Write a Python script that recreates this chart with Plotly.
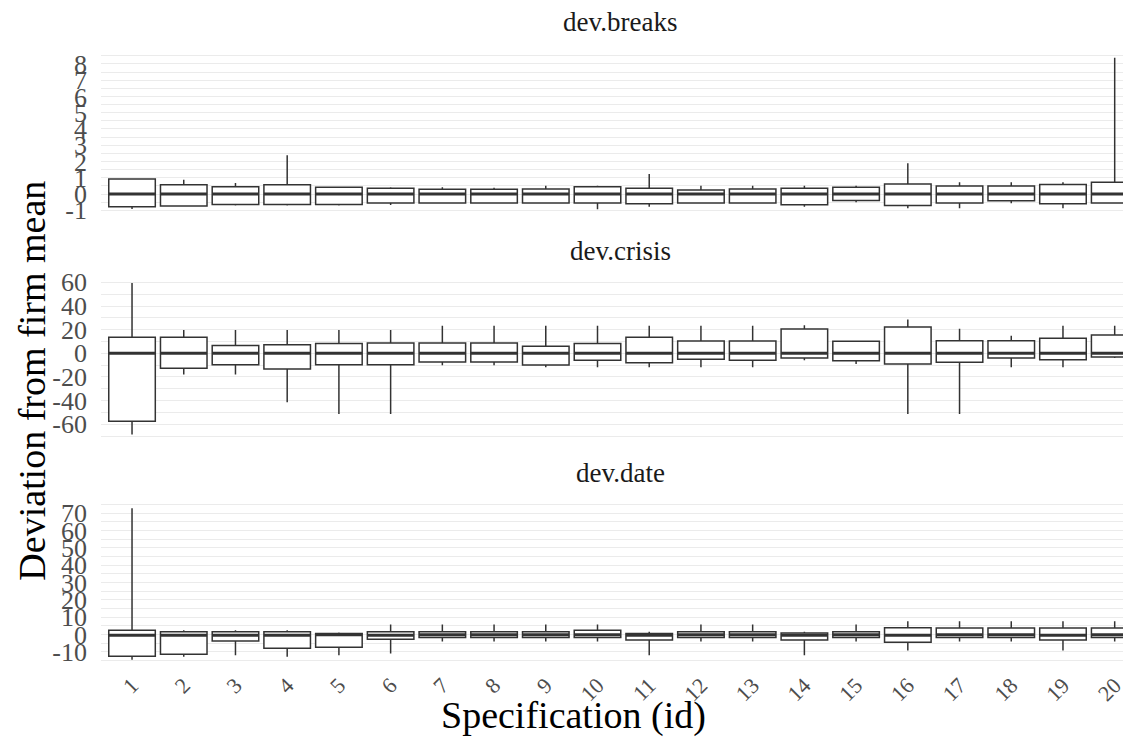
import plotly.graph_objects as go

# ---------------- data ----------------
spec_ids = list(range(1, 21))
spec_labels = [str(i) for i in spec_ids]
panel_names = ["dev.breaks", "dev.crisis", "dev.date"]

breaks_lo = [-0.92, -0.78, -0.70, -0.70, -0.70, -0.68, -0.59, -0.59, -0.59, -0.94,
             -0.78, -0.59, -0.59, -0.78, -0.51, -0.88, -0.88, -0.57, -0.88, -0.57]
breaks_q1 = [-0.78, -0.74, -0.64, -0.64, -0.64, -0.55, -0.55, -0.55, -0.55, -0.55,
             -0.59, -0.55, -0.55, -0.66, -0.39, -0.70, -0.55, -0.41, -0.59, -0.55]
breaks_med = [0.0, 0.0, 0.0, 0.0, 0.0, 0.0, 0.0, 0.0, 0.0, 0.0,
              0.0, 0.0, 0.0, 0.0, 0.0, 0.0, 0.0, 0.0, 0.0, 0.0]
breaks_q3 = [0.92, 0.57, 0.45, 0.57, 0.41, 0.35, 0.29, 0.29, 0.31, 0.45,
             0.35, 0.25, 0.31, 0.35, 0.41, 0.62, 0.49, 0.49, 0.59, 0.72]
breaks_hi = [0.92, 0.88, 0.68, 2.38, 0.45, 0.41, 0.41, 0.39, 0.51, 0.51,
             1.23, 0.51, 0.51, 0.51, 0.51, 1.89, 0.72, 0.72, 0.72, 8.37]

crisis_lo = [-68.7, -18.0, -18.0, -41.4, -51.3, -51.3, -10.1, -10.1, -11.8, -11.8,
             -11.8, -11.8, -11.8, -5.9, -9.0, -51.3, -51.3, -11.8, -11.8, -3.9]
crisis_q1 = [-57.5, -12.7, -9.6, -13.2, -9.6, -9.6, -7.3, -7.3, -9.9, -5.9,
             -7.9, -5.1, -5.9, -3.9, -6.2, -9.0, -7.6, -3.9, -5.4, -3.1]
crisis_med = [0.0, 0.0, 0.0, 0.0, 0.0, 0.0, 0.0, 0.0, 0.0, 0.0,
              0.0, 0.0, 0.0, 0.0, 0.0, 0.0, 0.0, 0.0, 0.0, 0.0]
crisis_q3 = [13.5, 13.5, 6.5, 7.3, 8.2, 8.7, 8.7, 8.7, 5.9, 8.2,
             13.5, 10.4, 10.4, 20.6, 10.1, 22.3, 10.7, 10.7, 12.7, 15.5]
crisis_hi = [59.4, 19.7, 19.7, 19.7, 19.7, 19.7, 23.4, 23.4, 23.4, 23.4,
             23.4, 23.4, 23.4, 23.7, 10.1, 28.5, 20.8, 14.9, 23.4, 23.4]

date_lo = [-14.4, -12.7, -11.9, -12.7, -11.9, -10.8, -4.0, -4.0, -4.0, -4.0,
           -11.9, -4.0, -4.0, -11.9, -4.0, -9.2, -4.0, -4.0, -9.2, -4.0]
date_q1 = [-12.5, -11.3, -3.7, -7.9, -7.3, -2.7, -1.7, -1.7, -1.7, -1.7,
           -3.1, -1.7, -1.7, -3.1, -1.7, -4.4, -1.7, -1.7, -3.1, -1.7]
date_med = [-0.3, -0.3, -0.3, -0.3, 0.0, -0.3, 0.0, 0.0, 0.0, 0.0,
            -0.3, 0.0, 0.0, -0.3, 0.0, -0.3, 0.0, 0.0, -0.3, 0.0]
date_q3 = [2.5, 1.7, 1.7, 1.7, 0.6, 1.7, 1.7, 1.7, 1.7, 2.5,
           0.6, 1.7, 1.7, 1.0, 1.7, 4.0, 3.8, 3.8, 3.8, 3.8]
date_hi = [72.7, 2.5, 2.5, 2.5, 1.2, 5.8, 5.8, 5.8, 5.8, 5.8,
           1.7, 5.8, 5.8, 1.7, 5.8, 7.7, 7.7, 7.7, 7.7, 7.7]

breaks_ticks = [-1, 0, 1, 2, 3, 4, 5, 6, 7, 8]
crisis_ticks = [-60, -40, -20, 0, 20, 40, 60]
date_ticks = [-10, 0, 10, 20, 30, 40, 50, 60, 70]

panels = [
    (breaks_lo, breaks_q1, breaks_med, breaks_q3, breaks_hi, breaks_ticks, 0.5),
    (crisis_lo, crisis_q1, crisis_med, crisis_q3, crisis_hi, crisis_ticks, 10),
    (date_lo, date_q1, date_med, date_q3, date_hi, date_ticks, 5),
]

# ---------------- styling ----------------
FONT = "Liberation Serif"
W, H = 1131, 738
LINE = "#333333"
GRID = "#ebebeb"
BOX_W = 0.9
# pixel extents (top, bottom) of each panel
panel_px = [(42.3, 208.9), (267.5, 434.1), (492.8, 659.2)]
strip_center_px = [14, 243, 465]
plot_left = 93.3

fig = go.Figure()
annotations = []
layout = dict(
    width=W, height=H,
    margin=dict(l=plot_left, r=0, t=0, b=0, autoexpand=False),
    paper_bgcolor="white", plot_bgcolor="white",
    showlegend=False,
    font=dict(family=FONT, color="#1a1a1a"),
)

for k, (lo, q1, med, q3, hi, ticks, minor_dt) in enumerate(panels):
    ax = "" if k == 0 else str(k + 1)
    xref, yref = "x" + ax, "y" + ax
    fig.add_trace(go.Box(
        x=spec_ids, q1=q1, median=med, q3=q3, lowerfence=lo, upperfence=hi,
        width=BOX_W, whiskerwidth=0, boxpoints=False,
        fillcolor="white", line=dict(color=LINE, width=1.5),
        xaxis=xref, yaxis=yref, hoverinfo="skip",
    ))
    # thicker median bars (ggplot style)
    mx, my = [], []
    for i, m in zip(spec_ids, med):
        mx += [i - BOX_W / 2, i + BOX_W / 2, None]
        my += [m, m, None]
    fig.add_trace(go.Scatter(x=mx, y=my, mode="lines",
                             line=dict(color=LINE, width=3),
                             xaxis=xref, yaxis=yref, hoverinfo="skip"))

    dmin, dmax = min(lo), max(hi)
    pad = 0.05 * (dmax - dmin)
    top, bot = panel_px[k]
    layout["xaxis" + ax] = dict(
        domain=[0, 1], range=[0.4, 20.47], anchor=yref,
        tickmode="array", tickvals=spec_ids, ticktext=spec_labels,
        showticklabels=(k == 2), tickangle=-45,
        tickfont=dict(family=FONT, size=22, color="#4d4d4d"),
        showgrid=False, zeroline=False, showline=False, ticks="",
        ticklabelstandoff=0,
    )
    layout["yaxis" + ax] = dict(
        domain=[1 - bot / H, 1 - top / H], range=[dmin - pad, dmax + pad],
        anchor=xref,
        tickmode="array", tickvals=ticks, ticktext=[str(t) for t in ticks],
        tickfont=dict(family=FONT, size=26, color="#4d4d4d"),
        showgrid=True, gridcolor=GRID, gridwidth=1.3,
        minor=dict(tickmode="linear", tick0=0, dtick=minor_dt, showgrid=True,
                   gridcolor=GRID, gridwidth=1.0),
        zeroline=False, showline=False, ticks="", ticklabelstandoff=13,
    )
    annotations.append(dict(
        text=panel_names[k], xref="paper", yref="paper",
        x=0.5, y=1 - strip_center_px[k] / H, xanchor="center", yanchor="middle",
        showarrow=False, font=dict(family=FONT, size=27, color="#1a1a1a"),
    ))

annotations.append(dict(
    text="Specification (id)", xref="paper", yref="paper",
    x=(566 - plot_left) / (W - plot_left), y=1 - 707 / H,
    xanchor="center", yanchor="middle",
    showarrow=False, font=dict(family=FONT, size=38, color="black"),
))
annotations.append(dict(
    text="Deviation from firm mean", xref="paper", yref="paper",
    x=(24 - plot_left) / (W - plot_left), y=1 - 373 / H,
    xanchor="center", yanchor="middle", textangle=-90,
    showarrow=False, font=dict(family=FONT, size=38, color="black"),
))
layout["annotations"] = annotations
fig.update_layout(**layout)
fig.write_html("out.html")
